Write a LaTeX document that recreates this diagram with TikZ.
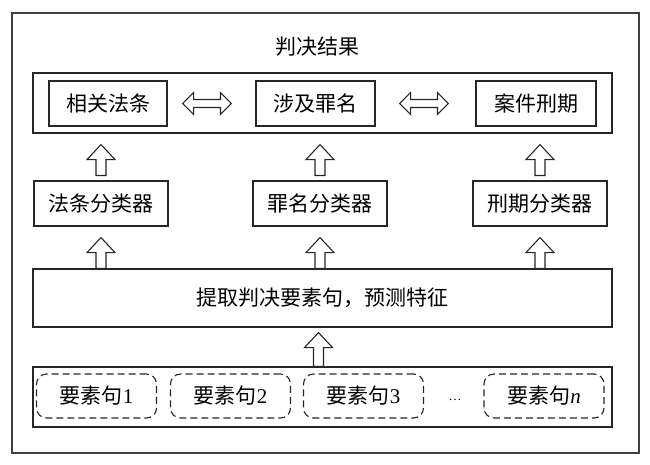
\documentclass[tikz,border=0pt]{standalone}
\usepackage{fontspec}
\newfontfamily\cjk{Noto Sans CJK SC}
\newfontfamily\tnr{Liberation Serif}
\usetikzlibrary{calc}

\tikzset{
  box/.style={draw=black!85, line width=1.1pt, inner sep=0pt},
  sent/.style={draw=black!85, line width=1.1pt, dash pattern=on 7pt off 4pt,
    rounded corners=10pt, minimum width=120pt, minimum height=44pt, inner sep=0pt},
  fatup/.style={draw=black!85, line width=1.1pt, fill=white,
    to path={let \p1=(\tikztostart), \p2=(\tikztotarget) in
      (\x1-5pt,\y1) -- (\x1-5pt,\y2-15pt) -- (\x1-14pt,\y2-15pt) -- (\x1,\y2)
      -- (\x1+14pt,\y2-15pt) -- (\x1+5pt,\y2-15pt) -- (\x1+5pt,\y1) -- cycle}},
  fatboth/.style={draw=black!85, line width=1.1pt, fill=white,
    to path={let \p1=(\tikztostart), \p2=(\tikztotarget) in
      (\x1,\y1) -- (\x1+11pt,\y1+11pt) -- (\x1+11pt,\y1+4pt) -- (\x2-11pt,\y1+4pt)
      -- (\x2-11pt,\y1+11pt) -- (\x2,\y1) -- (\x2-11pt,\y1-11pt) -- (\x2-11pt,\y1-4pt)
      -- (\x1+11pt,\y1-4pt) -- (\x1+11pt,\y1-11pt) -- cycle}},
}

\begin{document}
\begin{tikzpicture}[x=1pt,y=-1pt,font=\cjk\fontsize{21}{25}\selectfont]

        \useasboundingbox (0,0) rectangle (650,464);
        \draw[line width=1.8pt, draw=black!75] (12,13) rectangle (639,453);

        \node (title) at (317,47) {判决结果};

        \begin{scope}[every node/.style={box}]
          \node[minimum width=579pt, minimum height=60pt] (res) at (322.5,103) {};
          \node[minimum width=118pt, minimum height=45pt] (r1) at (108,103.5) {相关法条};
          \node[minimum width=119pt, minimum height=45pt] (r2) at (315.5,103.5) {涉及罪名};
          \node[minimum width=120pt, minimum height=45pt] (r3) at (536,103.5) {案件刑期};

          \node[minimum width=134pt, minimum height=45pt] (c1) at (101,203.5) {法条分类器};
          \node[minimum width=134pt, minimum height=45pt] (c2) at (320,203.5) {罪名分类器};
          \node[minimum width=134pt, minimum height=45pt] (c3) at (540,203.5) {刑期分类器};

          \node[minimum width=579pt, minimum height=58pt] (ext) at (322.5,298) {提取判决要素句，预测特征};
          \node[minimum width=579pt, minimum height=60pt] (ins) at (322.5,397) {};
        \end{scope}

        \begin{scope}[every node/.style={sent}]
          \node (s1) at (96.5,396)  {要素句{\tnr 1}};
          \node (s2) at (230.5,396) {要素句{\tnr 2}};
          \node (s3) at (363.5,396) {要素句{\tnr 3}};
          \node (sn) at (544,396)   {要素句{\tnr\itshape n}};
        \end{scope}
        \node (dots) at (455,400) {\tnr\fontsize{13}{13}\selectfont\dots};

        \draw[fatboth] ($(r1.east)+(15,0)$) to ($(r2.west)+(-24,0)$);
        \draw[fatboth] ($(r2.east)+(24,0)$) to ($(r3.west)+(-27,0)$);

        \draw[fatup] ($(c1.north)+(0,-5)$) to ($(res.south -| c1.north)+(0,11)$);
        \draw[fatup] ($(c2.north)+(0,-5)$) to ($(res.south -| c2.north)+(0,11)$);
        \draw[fatup] ($(c3.north)+(0,-5)$) to ($(res.south -| c3.north)+(0,11)$);

        \draw[fatup] (ext.north -| c1.south) to ($(c1.south)+(0,11)$);
        \draw[fatup] (ext.north -| c2.south) to ($(c2.south)+(0,11)$);
        \draw[fatup] (ext.north -| c3.south) to ($(c3.south)+(0,11)$);

        \draw[fatup] ($(ins.north)+(-4,0)$) to ($(ext.south)+(-4,5)$);

      \end{tikzpicture}
\end{document}
